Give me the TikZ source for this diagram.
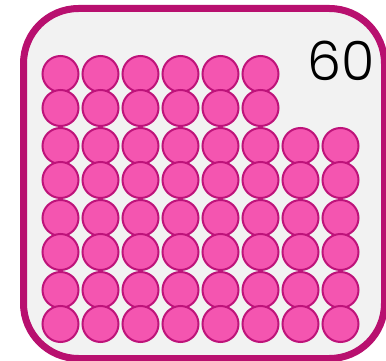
\documentclass[tikz,border=0pt]{standalone}
\usepackage{fontspec}
\newfontfamily\numfont{Poppins Light}
\definecolor{frame}{HTML}{B8106F}
\definecolor{panel}{HTML}{F2F2F2}
\definecolor{dotfill}{HTML}{F455B0}
\definecolor{dotline}{HTML}{BE137A}
\tikzset{
  dot/.style={circle, draw=dotline, fill=dotfill, line width=2pt, minimum size=36pt, inner sep=0pt},
  total/.style={font=\numfont\fontsize{54}{54}\selectfont, inner sep=0pt}
}
\begin{document}
\begin{tikzpicture}[x=1pt, y=-1pt]
    \useasboundingbox (0,0) rectangle (386,361);
    \draw[frame, fill=panel, line width=7pt, rounded corners=55pt] (23.5,8.5) rectangle (384.5,358.5);
    \foreach \r in {1,...,8} {
      \pgfmathsetmacro\yc{91 + 72*floor((\r-1)/2) + 17*(2*mod(\r-1,2)-1)}
      \foreach \c in {1,...,8} {
        \pgfmathtruncatemacro\ok{(\c<7) || (\r>2)}
        \pgfmathsetmacro\xc{20.5 + 40*\c}
        \ifnum\ok=1
          \node[dot] (d-\r-\c) at (\xc, \yc) {};
        \fi
      }
    }
    \node[total] (count) at (341,61) {60};
  \end{tikzpicture}
\end{document}
